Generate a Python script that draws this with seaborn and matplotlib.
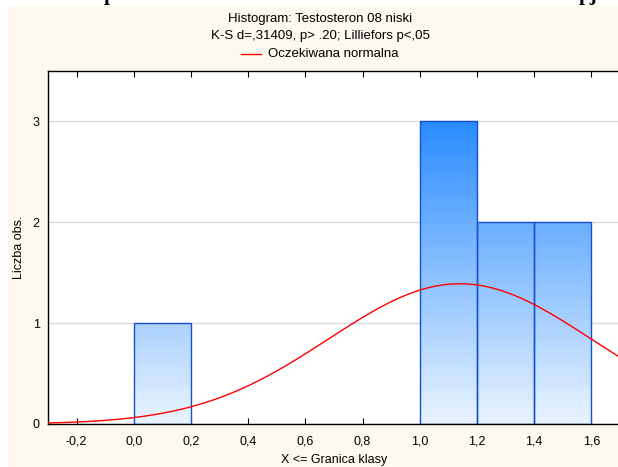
import numpy as np
import matplotlib
matplotlib.use("Agg")
import matplotlib.pyplot as plt
import seaborn as sns
from matplotlib.patches import Rectangle
from matplotlib.lines import Line2D

# ---- data ----
bin_edges = [0.0, 0.2, 0.4, 0.6, 0.8, 1.0, 1.2, 1.4, 1.6]
bin_counts = [1, 0, 0, 0, 0, 3, 2, 2]
x_ticks = [-0.2, 0.0, 0.2, 0.4, 0.6, 0.8, 1.0, 1.2, 1.4, 1.6]
y_ticks = [0, 1, 2, 3]
normal_mean = 1.14
normal_sd = 0.459
n_obs = 8
bin_width = 0.2
title_lines = ["Histogram: Testosteron 08 niski", "K-S d=,31409, p> .20; Lilliefors p<,05"]
legend_label = "Oczekiwana normalna"

plt.rcParams['font.family'] = ['Liberation Sans', 'DejaVu Sans']

W, H = 618, 467
fig = plt.figure(figsize=(W / 100, H / 100), dpi=100)
fig.patch.set_facecolor('white')
bg = Rectangle((8 / W, 0), 1 - 8 / W, 1 - 6 / H, transform=fig.transFigure,
               facecolor='#fdf9ef', edgecolor='none', zorder=-10)
fig.patches.append(bg)

# clipped fragments of a heading above
fig.text(110 / W, 1.0, "p", family=['Liberation Serif'], weight='bold', fontsize=15,
         ha='center', va='baseline')
fig.text(588 / W, 1.0, "pj", family=['Liberation Serif'], weight='bold', fontsize=15,
         ha='center', va='baseline')

ax = fig.add_axes([48 / W, (H - 424) / H, (620 - 48) / W, (424 - 71) / H])
ax.set_zorder(1)
ax.set_facecolor('white')

centers = [(bin_edges[i] + bin_edges[i + 1]) / 2 for i in range(len(bin_counts))]
sns.histplot(x=centers, weights=bin_counts, bins=bin_edges, ax=ax,
             edgecolor='#1450d0', linewidth=1.0, facecolor='none', alpha=1)

xlim = (-0.3, 1.7)
ylim = (0, 3.5)
ax.set_xlim(*xlim)
ax.set_ylim(*ylim)

# vertical gradient fill (global in y)
top_c = np.array([42, 140, 255]) / 255
bot_c = np.array([234, 244, 255]) / 255
yy = np.linspace(0, 3, 256)
grad = (bot_c[None, :] + (top_c - bot_c)[None, :] * (yy[:, None] / 3.0))
grad_img = grad[:, None, :]
for p in ax.patches:
    h = p.get_height()
    if h <= 0:
        p.set_visible(False)
        continue
    im = ax.imshow(grad_img, extent=[xlim[0], xlim[1], 0, 3], origin='lower',
                   aspect='auto', zorder=1.5, interpolation='bilinear')
    im.set_clip_path(p)
    p.set_zorder(2)
ax.set_xlim(*xlim)
ax.set_ylim(*ylim)

# expected normal curve
xs = np.linspace(xlim[0], xlim[1], 400)
ys = n_obs * bin_width * np.exp(-0.5 * ((xs - normal_mean) / normal_sd) ** 2) / (normal_sd * np.sqrt(2 * np.pi))
sns.lineplot(x=xs, y=ys, ax=ax, color='#ff0000', linewidth=1.0, zorder=3)

ax.set_yticks(y_ticks)
ax.set_yticklabels([str(v) for v in y_ticks], fontsize=9)
ax.set_xticks(x_ticks)
ax.set_xticklabels([f"{v:.1f}".replace('.', ',') for v in x_ticks], fontsize=9)
ax.grid(axis='y', color='#d9d9d9', linewidth=1.0, zorder=0)
ax.grid(axis='x', visible=False)
ax.set_axisbelow(True)
ax.tick_params(axis='x', direction='in', top=True, length=4, pad=8, color='black')
ax.tick_params(axis='y', direction='in', length=0, pad=6)
for s in ['left', 'bottom', 'top']:
    ax.spines[s].set_color('black')
    ax.spines[s].set_linewidth(1.0)
ax.spines['right'].set_visible(False)

ax.set_xlabel("X <= Granica klasy", fontsize=9, labelpad=5)
ax.set_ylabel("Liczba obs.", fontsize=9)
ax.yaxis.set_label_coords(-22.5 / (620 - 48), 0.50)

cx = 320 / W
fig.text(cx, 1 - 19 / H, title_lines[0], ha='center', va='center', fontsize=9.5)
fig.text(cx, 1 - 36 / H, title_lines[1], ha='center', va='center', fontsize=9.5)
fig.lines.append(Line2D([241 / W, 261 / W], [1 - 54 / H, 1 - 54 / H], transform=fig.transFigure,
                        color='#ff0000', linewidth=1.0))
fig.text(268 / W, 1 - 54 / H, legend_label, ha='left', va='center', fontsize=9.5)

fig.savefig("out.png", dpi=100, facecolor=fig.get_facecolor())
